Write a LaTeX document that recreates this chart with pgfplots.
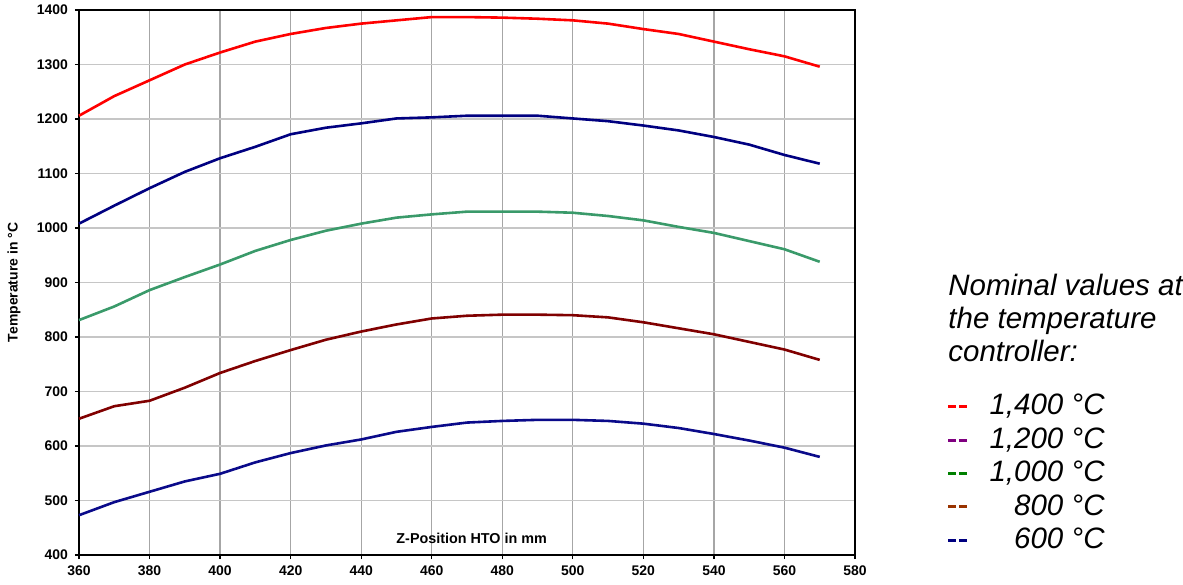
\documentclass[border=0pt]{standalone}
\usepackage{fontspec}
\setmainfont{Liberation Sans}
\usepackage{pgfplots}
\pgfplotsset{compat=1.18}
\usepackage{pgfplotstable}
\definecolor{cA}{HTML}{FF0000}
\definecolor{cB}{HTML}{000080}
\definecolor{cC}{HTML}{3A9A6A}
\definecolor{cD}{HTML}{800000}
\definecolor{cE}{HTML}{0A0A8A}
\definecolor{lB}{HTML}{800080}
\definecolor{lC}{HTML}{008000}
\definecolor{lD}{HTML}{993300}
\definecolor{lE}{HTML}{000080}
\pgfplotstableread{
x t1400 t1200 t1000 t800 t600
360 1206 1008 831 650 473
370 1242 1041 856 673 497
380 1271 1073 886 683 516
390 1300 1103 910 707 535
400 1322 1128 933 734 549
410 1342 1149 958 756 570
420 1356 1172 978 776 587
430 1367 1184 995 795 601
440 1375 1192 1008 810 612
450 1381 1201 1019 823 626
460 1387 1203 1025 834 635
470 1387 1206 1030 839 643
480 1386 1206 1030 841 646
490 1384 1206 1030 841 648
500 1381 1201 1028 840 648
510 1375 1196 1022 836 646
520 1365 1188 1014 827 641
530 1356 1179 1002 816 633
540 1342 1167 991 805 622
550 1328 1153 976 791 610
560 1315 1134 961 777 597
570 1296 1118 938 758 580
}\data
\newcommand{\dashes}[1]{\textcolor{#1}{\rule[3.3bp]{4bp}{1.5bp}\hspace{1.5bp}\rule[3.3bp]{4bp}{1.5bp}}}
\begin{document}
\begin{tikzpicture}
\path[use as bounding box] (-39.5bp,-15bp) rectangle (552bp,277.5bp);
\begin{axis}[
  at={(0,0)}, anchor=south west,
  scale only axis, width=388bp, height=272.5bp,
  xmin=360, xmax=580, ymin=400, ymax=1400,
  xtick distance=20, ytick distance=100,
  xtick pos=bottom, ytick pos=left,
  grid=major,
  x grid style={gray!70, line width=0.6bp},
  y grid style={gray!45, line width=0.6bp},
  axis line style={black, line width=0.8bp},
  tick align=outside, major tick length=2bp,
  tick style={black, line width=0.6bp},
  /pgf/number format/1000 sep={},
  /pgf/number format/assume math mode=true,
  tick label style={font=\fontsize{7}{8}\selectfont\bfseries},
  xlabel={Z-Position HTO in mm},
  ylabel={Temperature in °C},
  xlabel style={at={(axis description cs:0.506,0.031)}, anchor=center, font=\fontsize{7.2}{8}\selectfont\bfseries},
  ylabel style={at={(axis description cs:-0.0838,0.5)}, anchor=center, font=\fontsize{7}{8}\selectfont\bfseries},
  clip=false,
  every axis plot/.append style={line width=1.3bp, line join=round, no marks},
]
\addplot[cA] table[x=x,y=t1400]{\data};
\addplot[cB] table[x=x,y=t1200]{\data};
\addplot[cC] table[x=x,y=t1000]{\data};
\addplot[cD] table[x=x,y=t800]{\data};
\addplot[cE] table[x=x,y=t600]{\data};
\end{axis}
\begin{scope}[every node/.style={inner sep=0pt, font=\fontsize{14.8}{16.5}\selectfont\itshape}]
\node[anchor=base west] at (434.5bp,129.5bp) {Nominal values at};
\node[anchor=base west] at (434.5bp,113bp) {the temperature};
\node[anchor=base west] at (434.5bp,96.5bp) {controller:};
\node[anchor=base west] at (434.5bp,70bp) {\dashes{cA}};
\node[anchor=base west] at (434.5bp,53.33bp) {\dashes{lB}};
\node[anchor=base west] at (434.5bp,36.67bp) {\dashes{lC}};
\node[anchor=base west] at (434.5bp,20bp) {\dashes{lD}};
\node[anchor=base west] at (434.5bp,3.33bp) {\dashes{lE}};
\node[anchor=base east] at (513bp,70bp) {1,400 °C};
\node[anchor=base east] at (513bp,53.33bp) {1,200 °C};
\node[anchor=base east] at (513bp,36.67bp) {1,000 °C};
\node[anchor=base east] at (513bp,20bp) {800 °C};
\node[anchor=base east] at (513bp,3.33bp) {600 °C};
\end{scope}
\end{tikzpicture}
\end{document}
